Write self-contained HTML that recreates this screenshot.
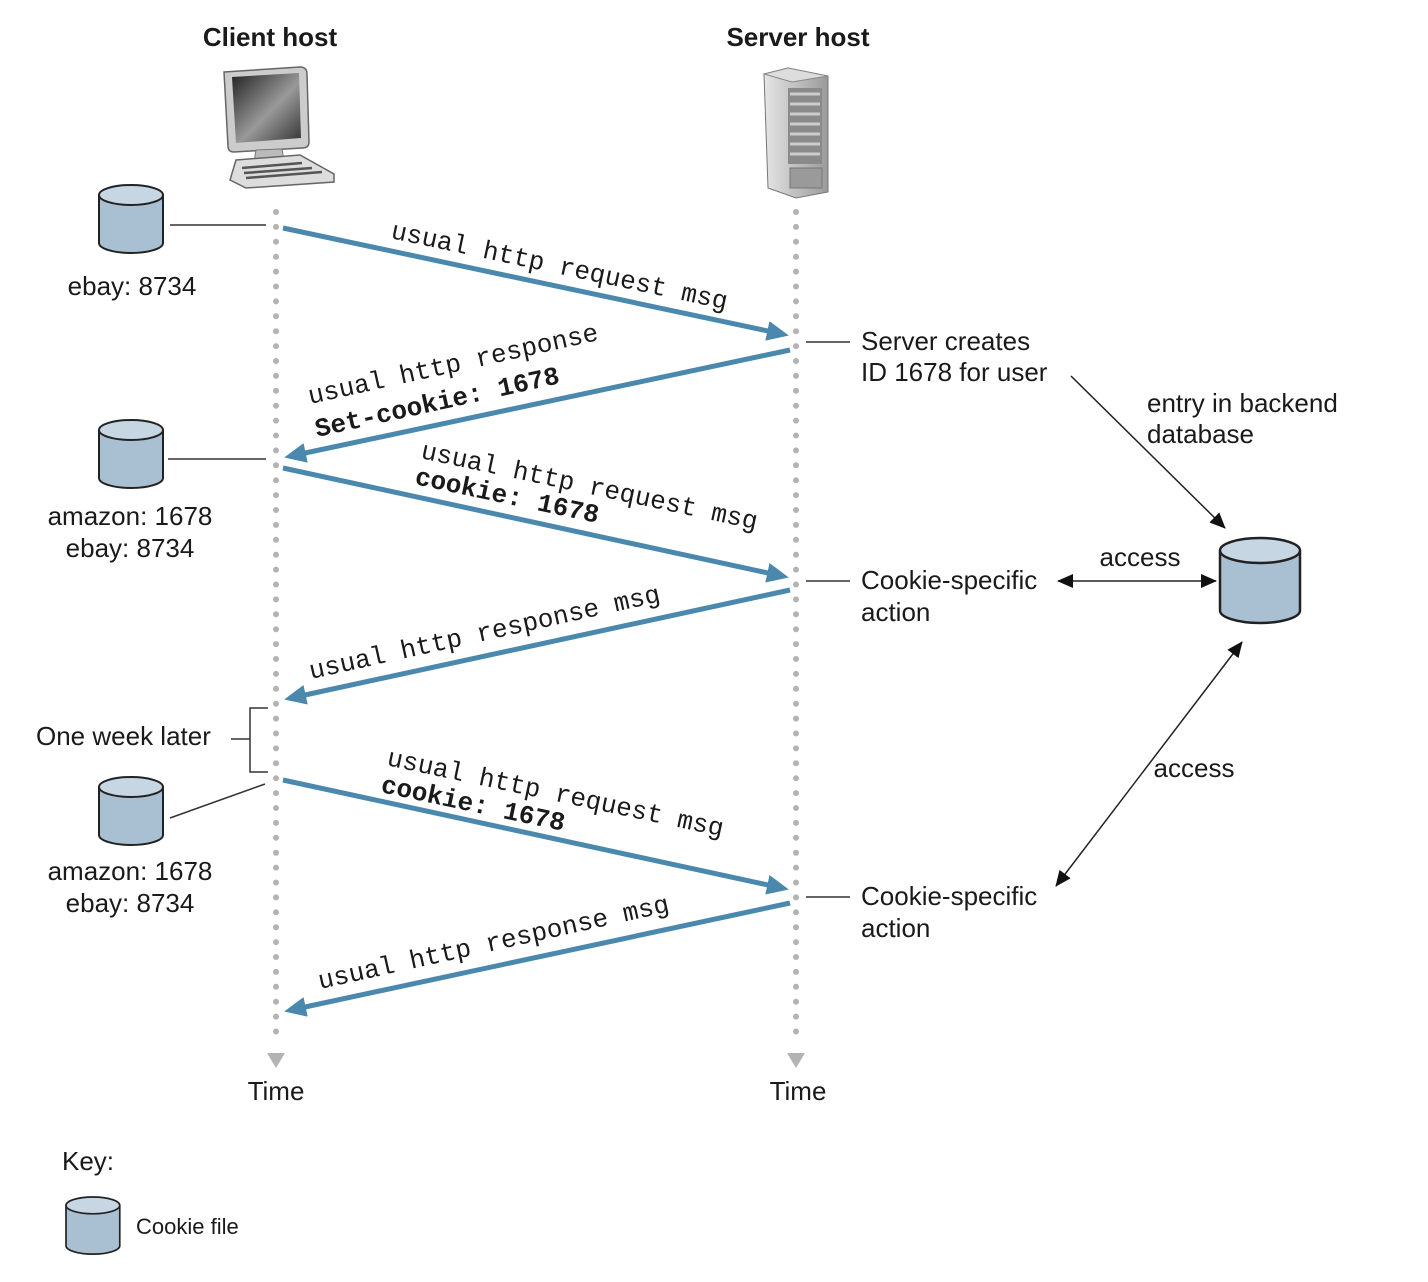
<!DOCTYPE html>
<html><head><meta charset="utf-8"><style>
html,body{margin:0;padding:0;background:#fff;}
svg{display:block}
.s{font-family:"Liberation Sans",sans-serif;font-size:26px;fill:#1a1a1a}
.b{font-weight:bold}
.m{font-family:"Liberation Mono",monospace;font-size:26px;fill:#1a1a1a}
.mb{font-family:"Liberation Mono",monospace;font-size:26px;font-weight:bold;fill:#1a1a1a}
</style></head><body>
<svg width="1428" height="1282" viewBox="0 0 1428 1282" xmlns="http://www.w3.org/2000/svg">
<defs>
<marker id="ba" markerWidth="4.4" markerHeight="4" refX="3" refY="2" orient="auto" markerUnits="strokeWidth"><path d="M0,0 L4.4,2 L0,4 Z" fill="#4a89ad"/></marker>
<marker id="kb" markerWidth="16" markerHeight="14" refX="15" refY="7" orient="auto-start-reverse" markerUnits="userSpaceOnUse"><path d="M0,0 L16,7 L0,14 Z" fill="#111"/></marker>
<linearGradient id="scr" x1="0" y1="0" x2="1" y2="1"><stop offset="0" stop-color="#222"/><stop offset="0.55" stop-color="#999"/><stop offset="1" stop-color="#333"/></linearGradient>
<linearGradient id="srv" x1="0" y1="0" x2="1" y2="0"><stop offset="0" stop-color="#e6e6e6"/><stop offset="1" stop-color="#9a9a9a"/></linearGradient>
<g id="cyl">
<path d="M0,10 V58 A32,10 0 0 0 64,58 V10" fill="#a9c0d3" stroke="#222" stroke-width="2"/>
<ellipse cx="32" cy="10" rx="32" ry="10" fill="#c6d6e3" stroke="#222" stroke-width="2"/>
</g>
</defs>

<text class="s b" x="270" y="46" text-anchor="middle">Client host</text>
<text class="s b" x="798" y="46" text-anchor="middle">Server host</text>

<!-- computer -->
<g>
<path d="M224,72 L300,67 Q307,67 307,74 L309,142 Q309,148 302,148 L234,152 Q228,152 228,146 Z" fill="#ccc" stroke="#666" stroke-width="1.5"/>
<path d="M232,77 L299,73 L301,138 L236,143 Z" fill="url(#scr)"/>
<path d="M256,150 L282,149 L284,160 L254,162 Z" fill="#bbb" stroke="#777"/>
<path d="M236,160 L300,155 L334,174 L334,182 L246,188 L230,180 Z" fill="#ddd" stroke="#666" stroke-width="1.5"/>
<path d="M242,168 L302,163 M244,173 L312,168 M246,178 L322,172" stroke="#555" stroke-width="2.5"/>
</g>
<!-- server -->
<g>
<path d="M764,74 L788,68 L828,76 L828,192 L796,198 L768,188 Z" fill="url(#srv)" stroke="#777"/>
<path d="M764,74 L788,68 L828,76 L792,82 Z" fill="#ddd" stroke="#888"/>
<rect x="788" y="88" width="34" height="76" fill="#8a8a8a"/>
<path d="M790,94H820M790,104H820M790,114H820M790,124H820M790,134H820M790,144H820M790,154H820" stroke="#ccc" stroke-width="3"/>
<rect x="790" y="168" width="32" height="20" fill="#9a9a9a" stroke="#777"/>
</g>

<!-- timelines -->
<line x1="276" y1="212" x2="276" y2="1046" stroke="#b3b3b3" stroke-width="6" stroke-linecap="round" stroke-dasharray="0 14.9"/>
<line x1="796" y1="212" x2="796" y2="1046" stroke="#b3b3b3" stroke-width="6" stroke-linecap="round" stroke-dasharray="0 14.9"/>
<path d="M267,1053 L285,1053 L276,1068 Z" fill="#b3b3b3"/>
<path d="M787,1053 L805,1053 L796,1068 Z" fill="#b3b3b3"/>
<text class="s" x="276" y="1100" text-anchor="middle">Time</text>
<text class="s" x="798" y="1100" text-anchor="middle">Time</text>

<!-- blue arrows -->
<g stroke="#4a89ad" stroke-width="5" fill="none" marker-end="url(#ba)">
<line x1="283" y1="228" x2="782" y2="334"/>
<line x1="790" y1="350" x2="291" y2="456"/>
<line x1="283" y1="468" x2="782" y2="576"/>
<line x1="790" y1="590" x2="291" y2="698"/>
<line x1="283" y1="780" x2="782" y2="888"/>
<line x1="790" y1="903" x2="291" y2="1010"/>
</g>

<text class="m" transform="translate(390,238) rotate(12)">usual http request msg</text>
<text class="m" transform="translate(310,404) rotate(-12.5)">usual http response</text>
<text class="mb" transform="translate(317,437) rotate(-12.5)">Set-cookie: 1678</text>
<text class="m" transform="translate(420,458) rotate(12)">usual http request msg</text>
<text class="mb" transform="translate(414,484) rotate(12)">cookie: 1678</text>
<text class="m" transform="translate(311,679) rotate(-12.5)">usual http response msg</text>
<text class="m" transform="translate(386,765) rotate(12)">usual http request msg</text>
<text class="mb" transform="translate(380,792) rotate(12)">cookie: 1678</text>
<text class="m" transform="translate(320,989) rotate(-12.5)">usual http response msg</text>

<!-- client side cookies -->
<use href="#cyl" x="99" y="185"/>
<line x1="170" y1="225" x2="266" y2="225" stroke="#333" stroke-width="1.5"/>
<text class="s" x="132" y="295" text-anchor="middle">ebay: 8734</text>

<use href="#cyl" x="99" y="420"/>
<line x1="168" y1="459" x2="266" y2="459" stroke="#333" stroke-width="1.5"/>
<text class="s" x="130" y="525" text-anchor="middle">amazon: 1678</text>
<text class="s" x="130" y="557" text-anchor="middle">ebay: 8734</text>

<text class="s" x="36" y="745">One week later</text>
<path d="M231,739 H250 M268,708 H250 V772 H268" stroke="#333" stroke-width="1.5" fill="none"/>

<use href="#cyl" x="99" y="777"/>
<line x1="170" y1="818" x2="265" y2="784" stroke="#333" stroke-width="1.5"/>
<text class="s" x="130" y="880" text-anchor="middle">amazon: 1678</text>
<text class="s" x="130" y="912" text-anchor="middle">ebay: 8734</text>

<!-- server side -->
<line x1="806" y1="342" x2="850" y2="342" stroke="#333" stroke-width="1.5"/>
<text class="s" x="861" y="350">Server creates</text>
<text class="s" x="861" y="381">ID 1678 for user</text>
<text class="s" x="1147" y="412">entry in backend</text>
<text class="s" x="1147" y="443">database</text>
<line x1="1071" y1="376" x2="1225" y2="528" stroke="#222" stroke-width="1.5" marker-end="url(#kb)"/>

<line x1="806" y1="581" x2="850" y2="581" stroke="#333" stroke-width="1.5"/>
<text class="s" x="861" y="589">Cookie-specific</text>
<text class="s" x="861" y="621">action</text>
<text class="s" x="1140" y="566" text-anchor="middle">access</text>
<line x1="1058" y1="581" x2="1216" y2="581" stroke="#222" stroke-width="1.5" marker-start="url(#kb)" marker-end="url(#kb)"/>

<use href="#cyl" x="1220" y="538" transform="translate(1220,538) scale(1.25,1.25) translate(-1220,-538)"/>

<line x1="806" y1="897" x2="850" y2="897" stroke="#333" stroke-width="1.5"/>
<text class="s" x="861" y="905">Cookie-specific</text>
<text class="s" x="861" y="937">action</text>
<text class="s" x="1194" y="777" text-anchor="middle">access</text>
<line x1="1056" y1="886" x2="1242" y2="642" stroke="#222" stroke-width="1.5" marker-start="url(#kb)" marker-end="url(#kb)"/>

<!-- key -->
<text class="s" x="62" y="1170">Key:</text>
<g transform="translate(66,1197) scale(0.84,0.84)"><use href="#cyl"/></g>
<text class="s" x="136" y="1234" style="font-size:22px">Cookie file</text>
</svg>
</body></html>
